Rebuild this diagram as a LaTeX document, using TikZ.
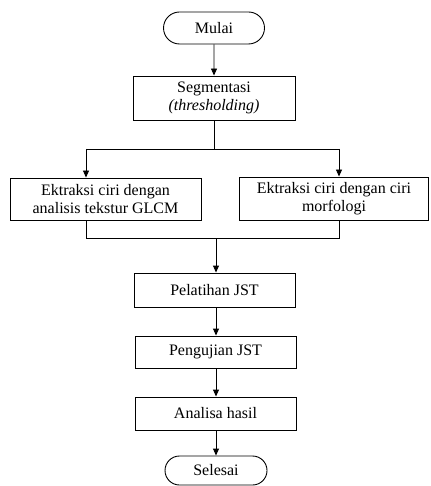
\documentclass[tikz,border=0pt]{standalone}
\usepackage{fontspec}
\setmainfont{Liberation Serif}
\usetikzlibrary{arrows.meta,shapes.misc}
\begin{document}
\begin{tikzpicture}[x=1pt,y=-1pt,
  every node/.style={font=\fontsize{16}{17.5}\selectfont, inner sep=0pt, align=center},
  box/.style={draw, line width=0.9pt, rectangle},
  term/.style={draw, line width=0.9pt, rounded rectangle},
  conn/.style={line width=0.9pt},
  arr/.style={conn, -{Triangle[length=7pt,width=6pt]}}]
\useasboundingbox (0,0) rectangle (430,486);
\fill[white] (0,0) rectangle (430,486);
\node[term, minimum width=101pt, minimum height=32pt] (mulai) at (214,28) {Mulai};
\node[box, minimum width=162pt, minimum height=44pt] (seg) at (214,98) {Segmentasi\\\textit{(thresholding)}};
\node[box, minimum width=191pt, minimum height=42pt] (left) at (105.5,199) {Ektraksi ciri dengan\\analisis tekstur GLCM};
\node[box, minimum width=189pt, minimum height=43pt] (right) at (334,198.5) {Ektraksi ciri dengan ciri\\morfologi};
\node[box, minimum width=161pt, minimum height=34pt] (pel) at (214.5,290) {Pelatihan JST};
\node[box, minimum width=161pt, minimum height=32pt] (pen) at (215.5,352) {Pengujian JST};
\node[box, minimum width=161pt, minimum height=33pt] (ana) at (215.5,413.5) {Analisa hasil};
\node[term, minimum width=102pt, minimum height=29pt] (sel) at (216,470.5) {Selesai};
\coordinate (ja) at (214,149);
\coordinate (jl) at (86,149);
\coordinate (jr) at (339,149);
\coordinate (bl) at (86,238);
\coordinate (br) at (339,238);
\coordinate (bc) at (216,238);
\draw[arr] (mulai) -- (seg);
\draw[conn] (seg.south) -- (ja);
\draw[conn] (jl) -- (jr);
\draw[arr] (jl) -- (jl |- left.north);
\draw[arr] (jr) -- (jr |- right.north);
\draw[conn] (bl |- left.south) -- (bl) -- (br) -- (br |- right.south);
\draw[arr] (bc) -- (bc |- pel.north);
\draw[arr] (bc |- pel.south) -- (bc |- pen.north);
\draw[arr] (bc |- pen.south) -- (bc |- ana.north);
\draw[arr] (bc |- ana.south) -- (bc |- sel.north);
\end{tikzpicture}
\end{document}
